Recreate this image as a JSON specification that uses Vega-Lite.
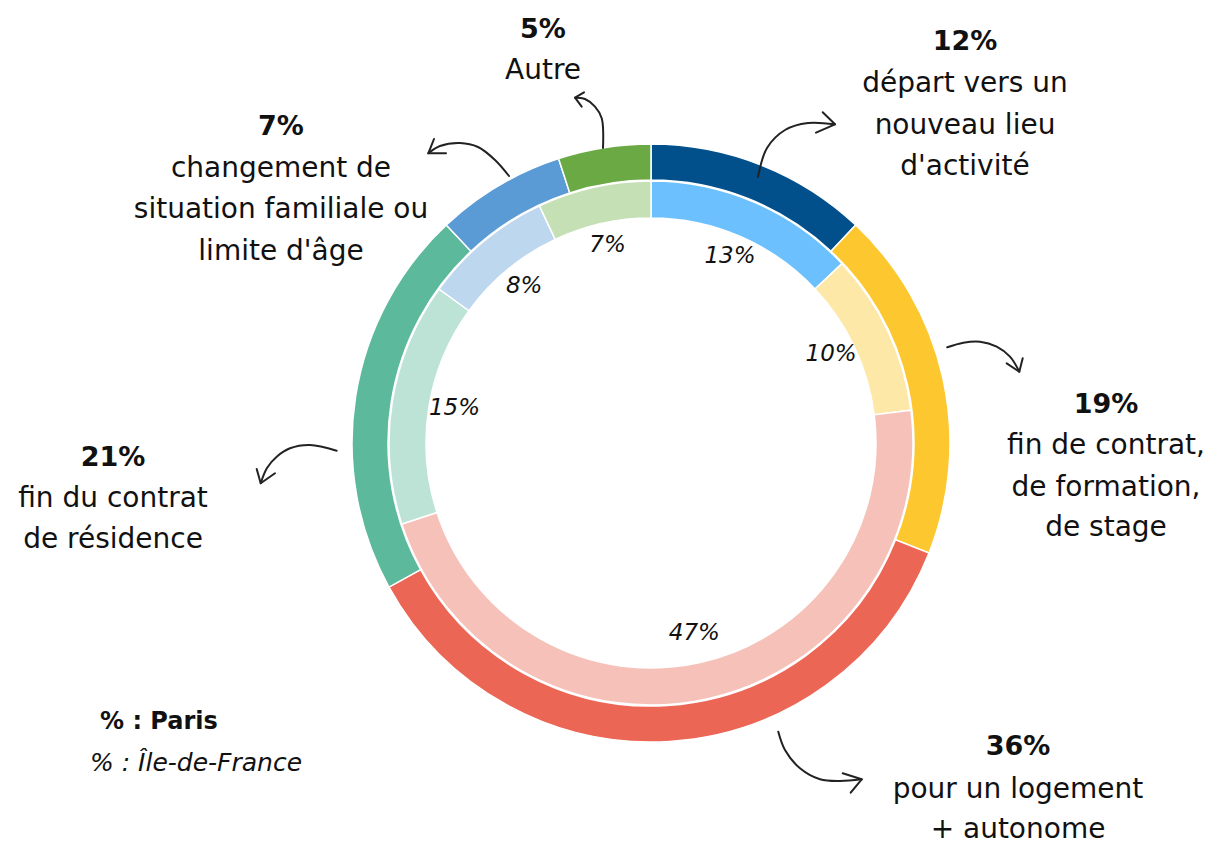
{
  "$schema": "https://vega.github.io/schema/vega-lite/v6.json",
  "width": 1134,
  "height": 804,
  "autosize": {"type": "none"},
  "padding": {"left": 84, "top": 41, "right": 0, "bottom": 0},
  "background": "white",
  "config": {"view": {"stroke": null}, "font": "DejaVu Sans"},
  "datasets": {
    "rings": [
      {"ring": "Paris", "category": "départ vers un nouveau lieu d'activité", "value": 12, "rank": 1, "key": "P1", "label": "12%"},
      {"ring": "Paris", "category": "fin de contrat, de formation, de stage", "value": 19, "rank": 2, "key": "P2", "label": "19%"},
      {"ring": "Paris", "category": "pour un logement + autonome", "value": 36, "rank": 3, "key": "P3", "label": "36%"},
      {"ring": "Paris", "category": "fin du contrat de résidence", "value": 21, "rank": 4, "key": "P4", "label": "21%"},
      {"ring": "Paris", "category": "changement de situation familiale ou limite d'âge", "value": 7, "rank": 5, "key": "P5", "label": "7%"},
      {"ring": "Paris", "category": "Autre", "value": 5, "rank": 6, "key": "P6", "label": "5%"},
      {"ring": "IDF", "category": "départ vers un nouveau lieu d'activité", "value": 13, "rank": 1, "key": "I1", "label": "13%"},
      {"ring": "IDF", "category": "fin de contrat, de formation, de stage", "value": 10, "rank": 2, "key": "I2", "label": "10%"},
      {"ring": "IDF", "category": "pour un logement + autonome", "value": 47, "rank": 3, "key": "I3", "label": "47%"},
      {"ring": "IDF", "category": "fin du contrat de résidence", "value": 15, "rank": 4, "key": "I4", "label": "15%"},
      {"ring": "IDF", "category": "changement de situation familiale ou limite d'âge", "value": 8, "rank": 5, "key": "I5", "label": "8%"},
      {"ring": "IDF", "category": "Autre", "value": 7, "rank": 6, "key": "I6", "label": "7%"}
    ],
    "arrows": [
      {"arrow": "a1", "step": 1, "x": -48, "y": 295},
      {"arrow": "a1", "step": 2, "x": -49.3, "y": 324.7},
      {"arrow": "a1", "step": 3, "x": -56, "y": 336.3},
      {"arrow": "a1", "step": 4, "x": -66, "y": 344},
      {"arrow": "a1", "step": 5, "x": -76, "y": 345.3},
      {"arrow": "a2", "step": 1, "x": 107, "y": 266},
      {"arrow": "a2", "step": 2, "x": 116, "y": 295},
      {"arrow": "a2", "step": 3, "x": 134, "y": 313},
      {"arrow": "a2", "step": 4, "x": 157, "y": 320},
      {"arrow": "a2", "step": 5, "x": 184, "y": 318.7},
      {"arrow": "a3", "step": 1, "x": -142, "y": 267},
      {"arrow": "a3", "step": 2, "x": -156, "y": 283},
      {"arrow": "a3", "step": 3, "x": -173, "y": 296},
      {"arrow": "a3", "step": 4, "x": -191, "y": 300},
      {"arrow": "a3", "step": 5, "x": -211, "y": 297},
      {"arrow": "a3", "step": 6, "x": -222.7, "y": 289.7},
      {"arrow": "a4", "step": 1, "x": 296.3, "y": 95.7},
      {"arrow": "a4", "step": 2, "x": 312.3, "y": 100.3},
      {"arrow": "a4", "step": 3, "x": 329, "y": 101.3},
      {"arrow": "a4", "step": 4, "x": 345.7, "y": 96.3},
      {"arrow": "a4", "step": 5, "x": 359, "y": 86.3},
      {"arrow": "a4", "step": 6, "x": 368.3, "y": 71.3},
      {"arrow": "a5", "step": 1, "x": -314.3, "y": -7.7},
      {"arrow": "a5", "step": 2, "x": -341, "y": -2},
      {"arrow": "a5", "step": 3, "x": -361, "y": -5.3},
      {"arrow": "a5", "step": 4, "x": -374.3, "y": -13.7},
      {"arrow": "a5", "step": 5, "x": -384, "y": -25},
      {"arrow": "a5", "step": 6, "x": -390.3, "y": -40.3},
      {"arrow": "a6", "step": 1, "x": 127.3, "y": -288.7},
      {"arrow": "a6", "step": 2, "x": 134, "y": -307},
      {"arrow": "a6", "step": 3, "x": 149, "y": -325.3},
      {"arrow": "a6", "step": 4, "x": 169, "y": -336.3},
      {"arrow": "a6", "step": 5, "x": 189, "y": -338},
      {"arrow": "a6", "step": 6, "x": 210.7, "y": -336.3}
    ],
    "heads": [
      {"arrow": "a1", "step": 1, "x": -67, "y": 350.7},
      {"arrow": "a1", "step": 2, "x": -76, "y": 345.3},
      {"arrow": "a1", "step": 3, "x": -69.3, "y": 336.3},
      {"arrow": "a2", "step": 1, "x": 171.7, "y": 330.7},
      {"arrow": "a2", "step": 2, "x": 184, "y": 318.7},
      {"arrow": "a2", "step": 3, "x": 165, "y": 310.3},
      {"arrow": "a3", "step": 1, "x": -217, "y": 304},
      {"arrow": "a3", "step": 2, "x": -222.7, "y": 289.7},
      {"arrow": "a3", "step": 3, "x": -205, "y": 289.7},
      {"arrow": "a4", "step": 1, "x": 355.7, "y": 79.7},
      {"arrow": "a4", "step": 2, "x": 368.3, "y": 71.3},
      {"arrow": "a4", "step": 3, "x": 371.7, "y": 84.7},
      {"arrow": "a5", "step": 1, "x": -394.3, "y": -26},
      {"arrow": "a5", "step": 2, "x": -390.3, "y": -40.3},
      {"arrow": "a5", "step": 3, "x": -376, "y": -30.3},
      {"arrow": "a6", "step": 1, "x": 191.7, "y": -330.3},
      {"arrow": "a6", "step": 2, "x": 210.7, "y": -336.3},
      {"arrow": "a6", "step": 3, "x": 199.7, "y": -349.7}
    ],
    "labels": [
      {"kind": "pct", "x": 314, "y": 401, "text": "12%"},
      {"kind": "line", "x": 314, "y": 359, "text": "départ vers un"},
      {"kind": "line", "x": 314, "y": 317, "text": "nouveau lieu"},
      {"kind": "line", "x": 314, "y": 276, "text": "d'activité"},
      {"kind": "pct", "x": -108, "y": 413, "text": "5%"},
      {"kind": "line", "x": -108, "y": 372, "text": "Autre"},
      {"kind": "pct", "x": -370, "y": 316, "text": "7%"},
      {"kind": "line", "x": -370, "y": 274, "text": "changement de"},
      {"kind": "line", "x": -370, "y": 233, "text": "situation familiale ou"},
      {"kind": "line", "x": -370, "y": 191, "text": "limite d'âge"},
      {"kind": "pct", "x": 455, "y": 38, "text": "19%"},
      {"kind": "line", "x": 455, "y": -3, "text": "fin de contrat,"},
      {"kind": "line", "x": 455, "y": -45, "text": "de formation,"},
      {"kind": "line", "x": 455, "y": -85, "text": "de stage"},
      {"kind": "pct", "x": -538, "y": -15, "text": "21%"},
      {"kind": "line", "x": -538, "y": -56, "text": "fin du contrat"},
      {"kind": "line", "x": -538, "y": -97, "text": "de résidence"},
      {"kind": "pct", "x": 367, "y": -304, "text": "36%"},
      {"kind": "line", "x": 367, "y": -347, "text": "pour un logement"},
      {"kind": "line", "x": 367, "y": -387, "text": "+ autonome"}
    ],
    "legend": [
      {"kind": "paris", "x": -551, "y": -279, "text": "% : Paris"},
      {"kind": "idf", "x": -561, "y": -320, "text": "% : Île-de-France"}
    ]
  },
  "layer": [
    {
      "data": {"name": "rings"},
      "transform": [{"filter": "datum.ring === 'Paris'"}],
      "mark": {"type": "arc", "outerRadius": 299, "innerRadius": 263, "stroke": "white", "strokeWidth": 1.5},
      "encoding": {
        "theta": {"field": "value", "type": "quantitative", "stack": true},
        "order": {"field": "rank", "type": "quantitative"},
        "color": {
          "field": "key", "type": "nominal", "legend": null,
          "scale": {
            "domain": ["P1", "P2", "P3", "P4", "P5", "P6", "I1", "I2", "I3", "I4", "I5", "I6"],
            "range": ["#01508b", "#fdc72f", "#ec6656", "#5cb99b", "#5b9bd5", "#6aa944", "#6cc0fd", "#fee8a7", "#f6c1b9", "#bde3d6", "#bdd7ee", "#c5e0b4"]
          }
        }
      }
    },
    {
      "data": {"name": "rings"},
      "transform": [{"filter": "datum.ring === 'IDF'"}],
      "mark": {"type": "arc", "outerRadius": 262, "innerRadius": 225, "stroke": "white", "strokeWidth": 1.5},
      "encoding": {
        "theta": {"field": "value", "type": "quantitative", "stack": true},
        "order": {"field": "rank", "type": "quantitative"},
        "color": {"field": "key", "type": "nominal", "legend": null}
      }
    },
    {
      "data": {"name": "rings"},
      "transform": [{"filter": "datum.ring === 'IDF'"}],
      "mark": {"type": "text", "radius": 199, "fontSize": 23, "fontStyle": "italic", "color": "#111", "align": "center", "baseline": "middle", "dy": -4},
      "encoding": {
        "theta": {"field": "value", "type": "quantitative", "stack": true},
        "order": {"field": "rank", "type": "quantitative"},
        "text": {"field": "label"}
      }
    },
    {
      "data": {"name": "arrows"},
      "mark": {"type": "line", "interpolate": "catmull-rom", "color": "#222", "strokeWidth": 2, "strokeCap": "round"},
      "encoding": {
        "x": {"field": "x", "type": "quantitative", "axis": null, "scale": {"domain": [-567, 567], "nice": false, "zero": false}},
        "y": {"field": "y", "type": "quantitative", "axis": null, "scale": {"domain": [-402, 402], "nice": false, "zero": false}},
        "detail": {"field": "arrow"},
        "order": {"field": "step", "type": "quantitative"}
      }
    },
    {
      "data": {"name": "heads"},
      "mark": {"type": "line", "color": "#222", "strokeWidth": 2, "strokeCap": "round", "strokeJoin": "round"},
      "encoding": {
        "x": {"field": "x", "type": "quantitative"},
        "y": {"field": "y", "type": "quantitative"},
        "detail": {"field": "arrow"},
        "order": {"field": "step", "type": "quantitative"}
      }
    },
    {
      "data": {"name": "labels"},
      "transform": [{"filter": "datum.kind === 'pct'"}],
      "mark": {"type": "text", "fontSize": 27, "fontWeight": "bold", "color": "#111", "align": "center", "baseline": "middle"},
      "encoding": {
        "x": {"field": "x", "type": "quantitative"},
        "y": {"field": "y", "type": "quantitative"},
        "text": {"field": "text"}
      }
    },
    {
      "data": {"name": "labels"},
      "transform": [{"filter": "datum.kind === 'line'"}],
      "mark": {"type": "text", "fontSize": 28, "color": "#111", "align": "center", "baseline": "middle"},
      "encoding": {
        "x": {"field": "x", "type": "quantitative"},
        "y": {"field": "y", "type": "quantitative"},
        "text": {"field": "text"}
      }
    },
    {
      "data": {"name": "legend"},
      "transform": [{"filter": "datum.kind === 'paris'"}],
      "mark": {"type": "text", "fontSize": 24, "fontWeight": "bold", "color": "#111", "align": "left", "baseline": "middle"},
      "encoding": {
        "x": {"field": "x", "type": "quantitative"},
        "y": {"field": "y", "type": "quantitative"},
        "text": {"field": "text"}
      }
    },
    {
      "data": {"name": "legend"},
      "transform": [{"filter": "datum.kind === 'idf'"}],
      "mark": {"type": "text", "fontSize": 25, "fontStyle": "italic", "color": "#111", "align": "left", "baseline": "middle"},
      "encoding": {
        "x": {"field": "x", "type": "quantitative"},
        "y": {"field": "y", "type": "quantitative"},
        "text": {"field": "text"}
      }
    }
  ]
}
